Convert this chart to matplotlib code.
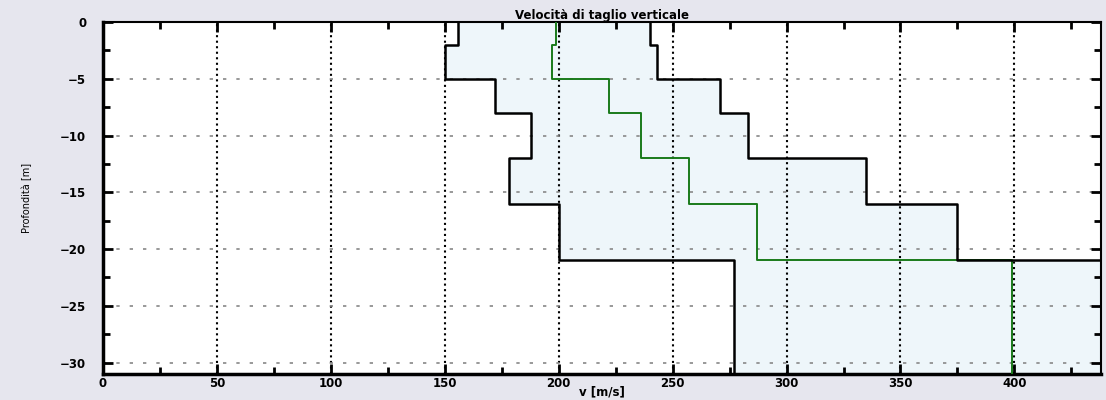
import matplotlib
matplotlib.use('Agg')
from matplotlib import pyplot as plt
from matplotlib.ticker import MultipleLocator
import numpy as np

# layer boundaries [m] (top of each layer, then bottom)
depth = [0, -2, -5, -8, -12, -16, -21, -31]
# Vs per layer [m/s]
vs_min  = [156, 150, 172, 188, 178, 200, 277]
vs_mean = [199, 197, 222, 236, 257, 287, 399]
vs_max  = [240, 243, 271, 283, 335, 375, 480]

def steps(v):
  xs, ys = [], []
  for ii in range(len(v)):
    xs += [v[ii], v[ii]]
    ys += [depth[ii], depth[ii+1]]
  return np.array(xs), np.array(ys)

xmin, yy = steps(vs_min)
xmean, _ = steps(vs_mean)
xmax, _ = steps(vs_max)

fig = plt.figure(figsize=(11.06, 4.0), dpi=100, facecolor='#e6e6ee')
ax = fig.add_axes([0.093, 0.065, 0.9025, 0.88])
ax.set_facecolor('white')

ax.fill_betweenx(yy, xmin, xmax, color='#eef6fa', lw=0, zorder=1)
ax.plot(xmean, yy, color='#1a7a1a', lw=1.4, zorder=3)
ax.plot(xmin, yy, color='black', lw=1.8, zorder=4)
ax.plot(xmax, yy, color='black', lw=1.8, zorder=4)

ax.set_xlim(0, 438)
ax.set_ylim(-31, 0)
ax.xaxis.set_major_locator(MultipleLocator(50))
ax.xaxis.set_minor_locator(MultipleLocator(25))
ax.yaxis.set_major_locator(MultipleLocator(5))
ax.yaxis.set_minor_locator(MultipleLocator(2.5))
ax.tick_params(which='both', direction='in', top=True, right=True, width=2)
ax.tick_params(which='major', length=7, labelsize=8.5, pad=2)
ax.tick_params(axis='y', which='major', pad=12)
ax.tick_params(which='minor', length=5)
for lbl in ax.get_xticklabels() + ax.get_yticklabels():
  lbl.set_fontweight('bold')
for sp in ax.spines.values():
  sp.set_linewidth(1.5)
ax.spines['left'].set_linewidth(2.5)
ax.spines['bottom'].set_linewidth(2.5)

ax.grid(True, axis='x', which='major', color='black', ls=':', lw=1.5, zorder=2)
ax.grid(True, axis='y', which='major', color='#888888', ls=(0, (2, 6)), lw=1.2, zorder=2)

ax.set_title('Velocità di taglio verticale', fontsize=8.5, fontweight='bold', pad=2)
ax.set_xlabel('v [m/s]', fontsize=8.5, fontweight='bold', labelpad=-3)
ax.set_ylabel('Profondità [m]', fontsize=7, labelpad=20)

plt.savefig('out.png', dpi=100, facecolor=fig.get_facecolor())
